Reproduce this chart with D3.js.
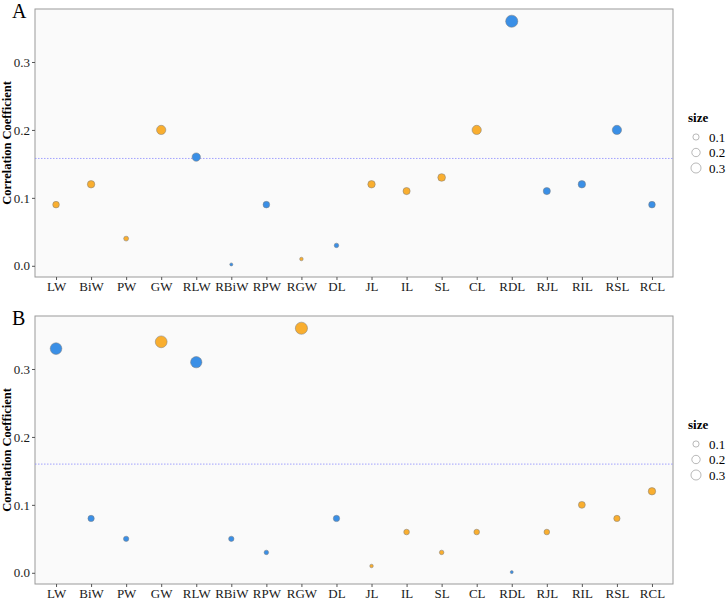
<!DOCTYPE html>
<html>
<head>
<meta charset="utf-8">
<script src="https://cdn.jsdelivr.net/npm/d3@7"></script>
<style>
  body { margin: 0; background: #fff; }
  text { font-family: "Liberation Serif", "Times New Roman", serif; }
</style>
</head>
<body>
<svg id="chart" width="726" height="600"></svg>
<script>
// categories shared by both panels
var categories = ['LW', 'BiW', 'PW', 'GW', 'RLW', 'RBiW', 'RPW', 'RGW', 'DL',
                  'JL', 'IL', 'SL', 'CL', 'RDL', 'RJL', 'RIL', 'RSL', 'RCL'];

// panel A
var valuesA = [0.09, 0.12, 0.04, 0.20, 0.16, 0.002, 0.09, 0.01, 0.03,
               0.12, 0.11, 0.13, 0.20, 0.36, 0.11, 0.12, 0.20, 0.09];
var groupA  = ['o', 'o', 'o', 'o', 'b', 'b', 'b', 'o', 'b',
               'o', 'o', 'o', 'o', 'b', 'b', 'b', 'b', 'b'];
var thresholdA = 0.158;

// panel B
var valuesB = [0.33, 0.08, 0.05, 0.34, 0.31, 0.05, 0.03, 0.36, 0.08,
               0.01, 0.06, 0.03, 0.06, 0.001, 0.06, 0.10, 0.08, 0.12];
var groupB  = ['b', 'b', 'b', 'o', 'b', 'b', 'b', 'o', 'b',
               'o', 'o', 'o', 'o', 'b', 'o', 'o', 'o', 'o'];
var thresholdB = 0.16;

var yTicks = [0.0, 0.1, 0.2, 0.3];
var legendSizes = [0.1, 0.2, 0.3];

var colors = { o: '#F9AE2F', b: '#3A8FE6' };

var svg = d3.select('#chart');

// ggplot-like area scale for size
var area = d3.scaleLinear().domain([0.001, 0.36]).range([2.3, 37]);
function radius(v) {
  return Math.sqrt(area(v));
}

function drawPanel(top, label, values, groups, threshold) {
  var left = 35, right = 673, height = 268;
  var bottom = top + height;

  var x = d3.scalePoint()
    .domain(categories)
    .range([left, right])
    .padding(0.6);

  var y = d3.scaleLinear()
    .domain([-0.0165, 0.378])
    .range([bottom, top]);

  var g = svg.append('g');

  g.append('rect')
    .attr('x', left)
    .attr('y', top)
    .attr('width', right - left)
    .attr('height', height)
    .attr('fill', '#FAFAFA')
    .attr('stroke', '#9A9A9A')
    .attr('stroke-width', 1);

  // threshold line
  g.append('line')
    .attr('x1', left)
    .attr('x2', right)
    .attr('y1', y(threshold))
    .attr('y2', y(threshold))
    .attr('stroke', '#8C8CFF')
    .attr('stroke-width', 0.8)
    .attr('stroke-dasharray', '1.5,1.5');

  // axes
  var xAxis = g.append('g')
    .attr('transform', 'translate(0,' + bottom + ')')
    .call(d3.axisBottom(x).tickSize(3).tickPadding(2));
  xAxis.attr('font-family', null);
  xAxis.select('.domain').remove();
  xAxis.selectAll('line').attr('stroke', '#555');
  xAxis.selectAll('text')
    .attr('fill', '#1a1a1a')
    .style('font-size', '13px');

  var yAxis = g.append('g')
    .attr('transform', 'translate(' + left + ',0)')
    .call(d3.axisLeft(y).tickValues(yTicks).tickFormat(d3.format('.1f')).tickSize(3).tickPadding(2));
  yAxis.attr('font-family', null);
  yAxis.select('.domain').remove();
  yAxis.selectAll('line').attr('stroke', '#555');
  yAxis.selectAll('text')
    .attr('fill', '#1a1a1a')
    .style('font-size', '13px');

  // points
  g.selectAll('circle.pt')
    .data(values)
    .enter()
    .append('circle')
    .attr('class', 'pt')
    .attr('cx', function(d, i) { return x(categories[i]); })
    .attr('cy', function(d) { return y(d); })
    .attr('r', function(d) { return radius(d); })
    .attr('fill', function(d, i) { return colors[groups[i]]; })
    .attr('stroke', '#7a7a7a')
    .attr('stroke-width', 0.5);

  // panel letter
  g.append('text')
    .attr('x', 12)
    .attr('y', top + 9)
    .style('font-size', '20px')
    .text(label);

  // y title
  g.append('text')
    .attr('transform', 'translate(10.5,' + (top + height / 2) + ') rotate(-90)')
    .attr('text-anchor', 'middle')
    .style('font-size', '12.5px')
    .style('font-weight', 'bold')
    .text('Correlation Coefficient');

  // size legend
  var lg = g.append('g').attr('transform', 'translate(688,' + (top + 113) + ')');
  lg.append('text')
    .attr('x', 0)
    .attr('y', 0)
    .style('font-size', '13px')
    .style('font-weight', 'bold')
    .text('size');
  lg.selectAll('circle')
    .data(legendSizes)
    .enter()
    .append('circle')
    .attr('cx', 8)
    .attr('cy', function(d, i) { return 15 + i * 15.5; })
    .attr('r', function(d) { return radius(d) * 0.9; })
    .attr('fill', 'none')
    .attr('stroke', '#8a8a8a')
    .attr('stroke-width', 0.6);
  lg.selectAll('text.lab')
    .data(legendSizes)
    .enter()
    .append('text')
    .attr('class', 'lab')
    .attr('x', 21)
    .attr('y', function(d, i) { return 19.5 + i * 15.5; })
    .style('font-size', '13px')
    .text(function(d) { return d.toFixed(1); });
}

drawPanel(9, 'A', valuesA, groupA, thresholdA);
drawPanel(316, 'B', valuesB, groupB, thresholdB);
</script>
</body>
</html>
